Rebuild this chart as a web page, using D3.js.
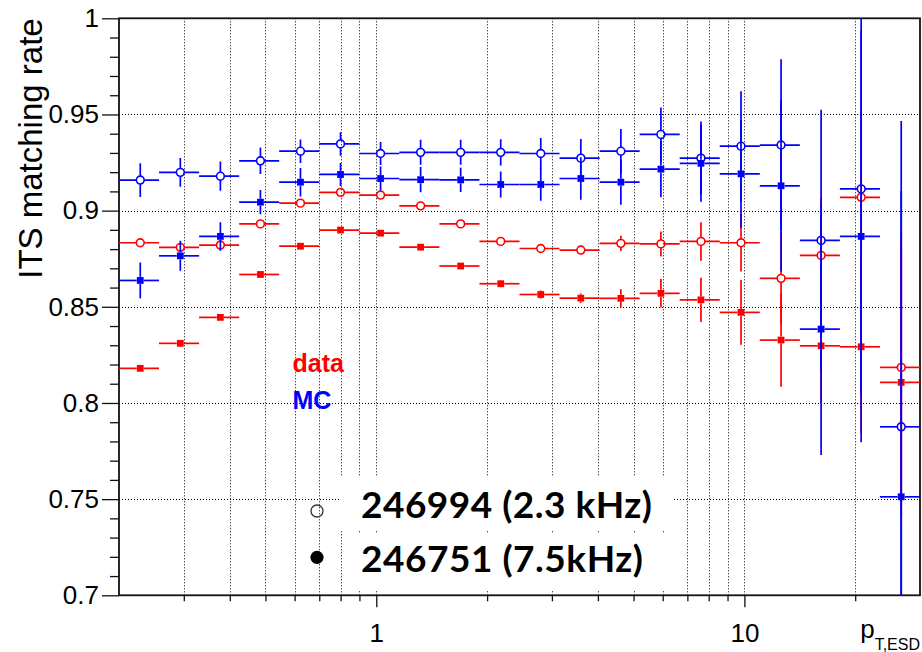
<!DOCTYPE html>
<html>
<head>
<meta charset="utf-8">
<script src="https://cdn.jsdelivr.net/npm/d3@7"></script>
<style>
  html, body { margin: 0; padding: 0; background: #fff; }
  svg { display: block; }
</style>
</head>
<body>
<svg id="chart" width="922" height="652"></svg>
<script>
// pT bin edges (20 log-spaced bins from 0.2 to 30 GeV/c)
const binEdges = [0.2, 0.2569, 0.3301, 0.4241, 0.5448, 0.6999, 0.8992, 1.1552, 1.4841,
  1.9066, 2.4494, 3.1468, 4.0427, 5.1937, 6.6723, 8.5719, 11.012, 14.148, 18.175, 23.350, 30.0];

// data, run 246994 (2.3 kHz) – open red
const dataLowRate    = [0.8833, 0.8809, 0.8821, 0.8931, 0.9039, 0.9095, 0.9081, 0.9025, 0.8931, 0.8840,
                        0.8803, 0.8795, 0.8830, 0.8827, 0.8840, 0.8833, 0.8648, 0.8767, 0.9069, 0.8185];
const dataLowErr     = [0.0015, 0.0015, 0.0015, 0.0015, 0.0015, 0.0015, 0.0016, 0.0017, 0.0018, 0.0019,
                        0.0021, 0.0022, 0.0040, 0.0065, 0.0100, 0.0150, 0.0240, 0.0300, 0.0450, 0.0700];
// data, run 246751 (7.5 kHz) – full red
const dataHighRate   = [0.8180, 0.8310, 0.8445, 0.8668, 0.8815, 0.8899, 0.8883, 0.8810, 0.8712, 0.8620,
                        0.8564, 0.8545, 0.8544, 0.8570, 0.8536, 0.8471, 0.8327, 0.8297, 0.8292, 0.8107];
const dataHighErr    = [0.0012, 0.0012, 0.0012, 0.0013, 0.0014, 0.0015, 0.0015, 0.0016, 0.0017, 0.0019,
                        0.0021, 0.0025, 0.0047, 0.0074, 0.0115, 0.0168, 0.0243, 0.0300, 0.0450, 0.0700];
// MC, run 246994 – open blue
const mcLowRate      = [0.9159, 0.9199, 0.9179, 0.9259, 0.9309, 0.9347, 0.9297, 0.9303, 0.9303, 0.9303,
                        0.9297, 0.9273, 0.9309, 0.9396, 0.9273, 0.9335, 0.9341, 0.8845, 0.9113, 0.7876];
const mcLowErr       = [0.0088, 0.0075, 0.0076, 0.0069, 0.0061, 0.0061, 0.0060, 0.0065, 0.0065, 0.0068,
                        0.0080, 0.0100, 0.0115, 0.0140, 0.0190, 0.0286, 0.0446, 0.0680, 0.1070, 0.1590];
// MC, run 246751 – full blue
const mcHighRate     = [0.8637, 0.8765, 0.8866, 0.9044, 0.9148, 0.9188, 0.9167, 0.9161, 0.9160, 0.9136,
                        0.9136, 0.9167, 0.9148, 0.9216, 0.9246, 0.9191, 0.9129, 0.8384, 0.8866, 0.7512];
const mcHighErr      = [0.0093, 0.0078, 0.0074, 0.0063, 0.0074, 0.0060, 0.0062, 0.0066, 0.0063, 0.0068,
                        0.0085, 0.0110, 0.0117, 0.0147, 0.0200, 0.0280, 0.0446, 0.0655, 0.1070, 0.1590];

// axis ticks and labels
const yMajorTicks  = [0.7, 0.75, 0.8, 0.85, 0.9, 0.95, 1.0];
const yTickLabels  = ["0.7", "0.75", "0.8", "0.85", "0.9", "0.95", "1"];
const yMinorTicks  = [0.71,0.72,0.73,0.74,0.76,0.77,0.78,0.79,0.81,0.82,0.83,0.84,0.86,0.87,0.88,0.89,
                      0.91,0.92,0.93,0.94,0.96,0.97,0.98,0.99];
const yGridLines   = [0.75, 0.8, 0.85, 0.9, 0.95];
const xMajorTicks  = [1, 10];
const xTickLabels  = ["1", "10"];
const xMinorTicks  = [0.3,0.4,0.5,0.6,0.7,0.8,0.9,2,3,4,5,6,7,8,9,20];
const xGridLines   = [0.3,0.4,0.5,0.6,0.7,0.8,0.9,1,2,3,4,5,6,7,8,9,10,20];

const legendLabels = ["246994 (2.3 kHz)", "246751 (7.5kHz)"];
const sampleLabels = ["data", "MC"];

const RED = "#ff0000", BLUE = "#0000ff";
const FONT = "'Liberation Sans', Arial, Helvetica, sans-serif";

const svg = d3.select("#chart");
const L = 119, R = 920, T = 18.3, B = 595.3;

const x = d3.scaleLog().domain([0.2, 30]).range([L, R]);
const y = d3.scaleLinear().domain([0.7, 1.0]).range([B, T]);

// dotted grid
const grid = svg.append("g").attr("stroke", "#000").attr("stroke-width", 1)
  .attr("stroke-dasharray", "1 2");
grid.selectAll("line.v").data(xGridLines).join("line").attr("class", "v")
  .attr("x1", d => Math.round(x(d)) + 0.5).attr("x2", d => Math.round(x(d)) + 0.5)
  .attr("y1", T).attr("y2", B);
grid.selectAll("line.h").data(yGridLines).join("line").attr("class", "h")
  .attr("x1", L).attr("x2", R)
  .attr("y1", d => Math.round(y(d)) + 0.5).attr("y2", d => Math.round(y(d)) + 0.5);

// white panes behind the run labels
svg.append("rect").attr("x", 339).attr("y", 477).attr("width", 334).attr("height", 54).attr("fill", "#fff");
svg.append("rect").attr("x", 348).attr("y", 533).attr("width", 325).attr("height", 57).attr("fill", "#fff");

// axes
const yAxisMajor = d3.axisLeft(y).tickValues(yMajorTicks).tickSize(17).tickPadding(3)
  .tickFormat((d, i) => yTickLabels[i]);
const yAxisMinor = d3.axisLeft(y).tickValues(yMinorTicks).tickSize(9).tickFormat("");
const xAxisMajor = d3.axisBottom(x).tickValues(xMajorTicks).tickSize(12).tickPadding(16)
  .tickFormat((d, i) => xTickLabels[i]);
const xAxisMinor = d3.axisBottom(x).tickValues(xMinorTicks).tickSize(6).tickFormat("");

function styleAxis(g) {
  g.select(".domain").remove();
  g.selectAll("line").attr("stroke", "#111").attr("stroke-width", 1.3);
  g.selectAll("text").attr("fill", "#000").style("font-family", FONT).style("font-size", "26px");
}
svg.append("g").attr("transform", `translate(${L},0)`).call(yAxisMinor).call(styleAxis);
svg.append("g").attr("transform", `translate(${L},0)`).call(yAxisMajor).call(styleAxis);
svg.append("g").attr("transform", `translate(0,${B})`).call(xAxisMinor).call(styleAxis);
svg.append("g").attr("transform", `translate(0,${B})`).call(xAxisMajor).call(styleAxis);

// frame
svg.append("rect").attr("x", L).attr("y", T).attr("width", R - L).attr("height", B - T)
  .attr("fill", "none").attr("stroke", "#111").attr("stroke-width", 1.8);

// axis titles
svg.append("text").attr("transform", `translate(42,${T}) rotate(-90)`)
  .attr("text-anchor", "end").style("font-family", FONT).style("font-size", "33px")
  .attr("fill", "#000").text("ITS matching rate");

const xt = svg.append("text").attr("x", R).attr("y", 638).attr("text-anchor", "end")
  .style("font-family", FONT).attr("fill", "#000");
xt.append("tspan").style("font-size", "26px").text("p");
xt.append("tspan").style("font-size", "16px").attr("dy", 12).text("T,ESD");

// data points with bin-width and statistical error bars
const clip = svg.append("clipPath").attr("id", "plotArea");
clip.append("rect").attr("x", L).attr("y", T).attr("width", R - L).attr("height", B - T);
const plot = svg.append("g").attr("clip-path", "url(#plotArea)");

function drawSeries(values, errors, color, open) {
  const g = plot.append("g");
  const pts = values.map((v, i) => {
    const lo = binEdges[i], hi = binEdges[i + 1];
    return { lo, hi, c: (lo + hi) / 2, v, e: errors[i] };
  });
  const gap = open ? 4 : 3.5;
  const segs = [];
  pts.forEach(p => {
    const cx = x(p.c), cy = y(p.v);
    segs.push([x(p.lo), cy, cx - gap, cy]);
    segs.push([cx + gap, cy, x(p.hi), cy]);
    const yt = y(p.v + p.e), yb = y(p.v - p.e);
    if (yt < cy - gap) segs.push([cx, yt, cx, cy - gap]);
    if (yb > cy + gap) segs.push([cx, cy + gap, cx, yb]);
  });
  g.selectAll("line").data(segs).join("line")
    .attr("x1", d => d[0]).attr("y1", d => d[1]).attr("x2", d => d[2]).attr("y2", d => d[3])
    .attr("stroke", color).attr("stroke-width", 1.7);
  if (open) {
    g.selectAll("circle").data(pts).join("circle")
      .attr("cx", d => x(d.c)).attr("cy", d => y(d.v)).attr("r", 3.9)
      .attr("fill", "none").attr("stroke", color).attr("stroke-width", 1.6);
  } else {
    g.selectAll("rect").data(pts).join("rect")
      .attr("x", d => x(d.c) - 3.4).attr("y", d => y(d.v) - 3.4)
      .attr("width", 6.8).attr("height", 6.8).attr("fill", color);
  }
}
drawSeries(dataHighRate, dataHighErr, RED, false);
drawSeries(dataLowRate, dataLowErr, RED, true);
drawSeries(mcHighRate, mcHighErr, BLUE, false);
drawSeries(mcLowRate, mcLowErr, BLUE, true);

// sample labels
svg.append("text").attr("x", 292.5).attr("y", 372).style("font-family", FONT)
  .style("font-size", "25px").style("font-weight", "bold").attr("fill", RED).text(sampleLabels[0]);
svg.append("text").attr("x", 292.5).attr("y", 409).style("font-family", FONT)
  .style("font-size", "25px").style("font-weight", "bold").attr("fill", BLUE).text(sampleLabels[1]);

// run legend
svg.append("circle").attr("cx", 317).attr("cy", 511).attr("r", 6)
  .attr("fill", "none").attr("stroke", "#333").attr("stroke-width", 1.3);
svg.append("circle").attr("cx", 317).attr("cy", 557.3).attr("r", 6.6).attr("fill", "#000");

const runFont = "Lato, 'Open Sans', sans-serif";
svg.append("text").attr("x", 361).attr("y", 518.3).style("font-family", runFont)
  .style("font-size", "37px").style("font-weight", "bold").attr("fill", "#000")
  .attr("textLength", 291).text(legendLabels[0]);
svg.append("text").attr("x", 361).attr("y", 571.7).style("font-family", runFont)
  .style("font-size", "37px").style("font-weight", "bold").attr("fill", "#000")
  .attr("textLength", 282).text(legendLabels[1]);
</script>
</body>
</html>
